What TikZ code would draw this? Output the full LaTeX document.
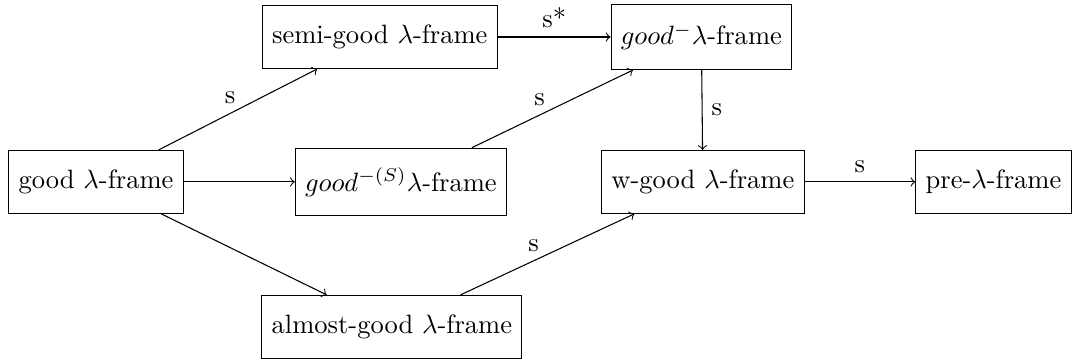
\documentclass[tikz,border=0pt]{standalone}
\usepackage{amsmath,amssymb}
\usetikzlibrary{arrows}
\tikzset{frm/.style={draw, inner xsep=3.7pt, inner ysep=7.3pt}}

\begin{document}
\begin{tikzpicture}
    \useasboundingbox (-1.272,-2.40) rectangle (12.93,2.41);
    % the frames
    \node[frm] (good) at (0,0) {good $\lambda$-frame};
    \node[frm] (semi) at (3.76,1.92) {semi-good $\lambda$-frame};
    \node[frm] (goodm) at (8.02,1.92) {$good^{-}\lambda$-frame};
    \node[frm] (goodmS) at (4.04,0) {$good^{-(S)}\lambda$-frame};
    \node[frm] (wgood) at (8.04,0) {w-good $\lambda$-frame};
    \node[frm] (pre) at (11.89,0) {pre-$\lambda$-frame};
    \node[frm] (almost) at (3.92,-1.92) {almost-good $\lambda$-frame};
    % the arrows
    \draw[->] (good) to node[pos=0.45,above] (s1) {s} (semi);
    \draw[->] (good) to (goodmS);
    \draw[->] (good) to (almost);
    \draw[->] (semi) to node[above] (s2) {s*} (goodm);
    \draw[->] (goodmS) to node[pos=0.42,above] (s3) {s} (goodm);
    \draw[->] (almost) to node[pos=0.42,above] (s4) {s} (wgood);
    \draw[->] (goodm) to node[right] (s5) {s} (wgood);
    \draw[->] (wgood) to node[above] (s6) {s} (pre);
\end{tikzpicture}
\end{document}
